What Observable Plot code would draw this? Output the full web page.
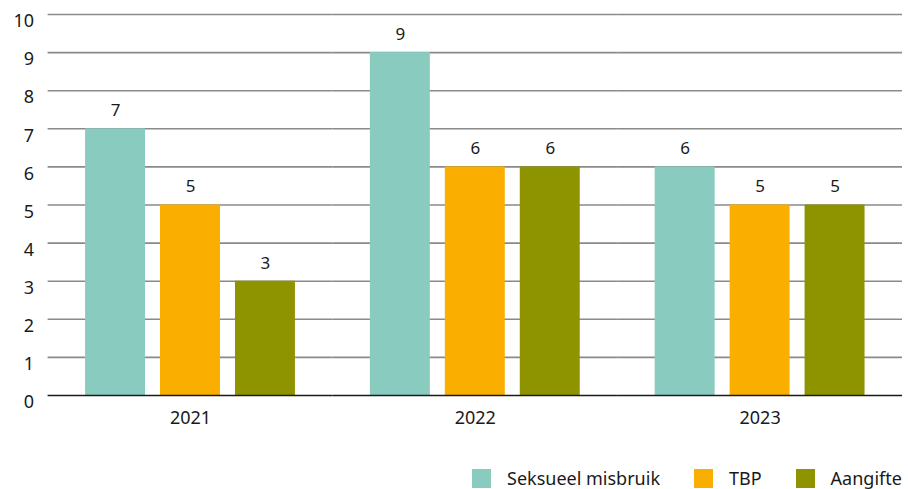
<!DOCTYPE html>
<html><head><meta charset="utf-8">
<script src="https://cdn.jsdelivr.net/npm/d3@7"></script>
<script src="https://cdn.jsdelivr.net/npm/@observablehq/plot@0.6"></script>
<style>
body{margin:0;background:#fff;font-family:"Noto Sans",sans-serif;}
#legend{position:absolute;top:466px;left:472px;display:flex;align-items:center;font-size:18px;color:#1a1a1a;}
#legend .sw{width:19px;height:19px;display:inline-block;margin-right:16px;}
#legend .it{display:flex;align-items:center;margin-right:34px;}
#legend .it:last-child{margin-right:0}
</style></head><body>
<div id="chart"></div>
<div id="legend"></div>
<script>
const years = ["2021", "2022", "2023"];
const series = ["Seksueel misbruik", "TBP", "Aangifte"];
const seksueel = [7, 9, 6];
const tbp = [5, 6, 5];
const aangifte = [3, 6, 5];
const colors = ["#89cbbf", "#f9ae00", "#8e9400"];
const yTicks = [0,1,2,3,4,5,6,7,8,9,10];

const vals = [seksueel, tbp, aangifte];
const data = [];
years.forEach((y, i) => series.forEach((s, j) => data.push({year: y, series: s, value: vals[j][i]})));

const plot = Plot.plot({
  width: 908, height: 445,
  marginTop: 14, marginBottom: 50, marginLeft: 47.6, marginRight: 6,
  style: {fontFamily: "Noto Sans, sans-serif", color: "#1a1a1a", overflow: "visible"},
  fx: {domain: years, padding: 0, round: false, label: null},
  x: {domain: series, paddingInner: 0.2, paddingOuter: 0.5, round: false, axis: null},
  y: {domain: [0, 10], label: null, axis: null},
  color: {domain: series, range: colors},
  marks: [
    Plot.ruleY(yTicks.filter(d => d > 0), {stroke: "#8a8a8a", strokeWidth: 1.6}),
    Plot.barY(data, {fx: "year", x: "series", y: "value", fill: "series"}),
    Plot.ruleY([0], {stroke: "#1a1a1a", strokeWidth: 1.6}),
    Plot.text(data, {fx: "year", x: "series", y: "value", text: d => String(d.value), dy: -18, fontSize: 17, fill: "#1a1a1a"}),
    Plot.axisY(yTicks, {tickSize: 0, tickPadding: 14, dy: 7, fontSize: 18, label: null, fill: "#1a1a1a"}),
    Plot.axisFx({anchor: "bottom", tickSize: 0, tickPadding: 16, fontSize: 18, label: null, fill: "#1a1a1a"})
  ]
});
document.getElementById("chart").append(plot);

const lg = document.getElementById("legend");
series.forEach((s, i) => {
  const it = document.createElement("div"); it.className = "it";
  const sw = document.createElement("span"); sw.className = "sw"; sw.style.background = colors[i];
  it.append(sw, document.createTextNode(s));
  lg.append(it);
});
</script>
</body></html>
